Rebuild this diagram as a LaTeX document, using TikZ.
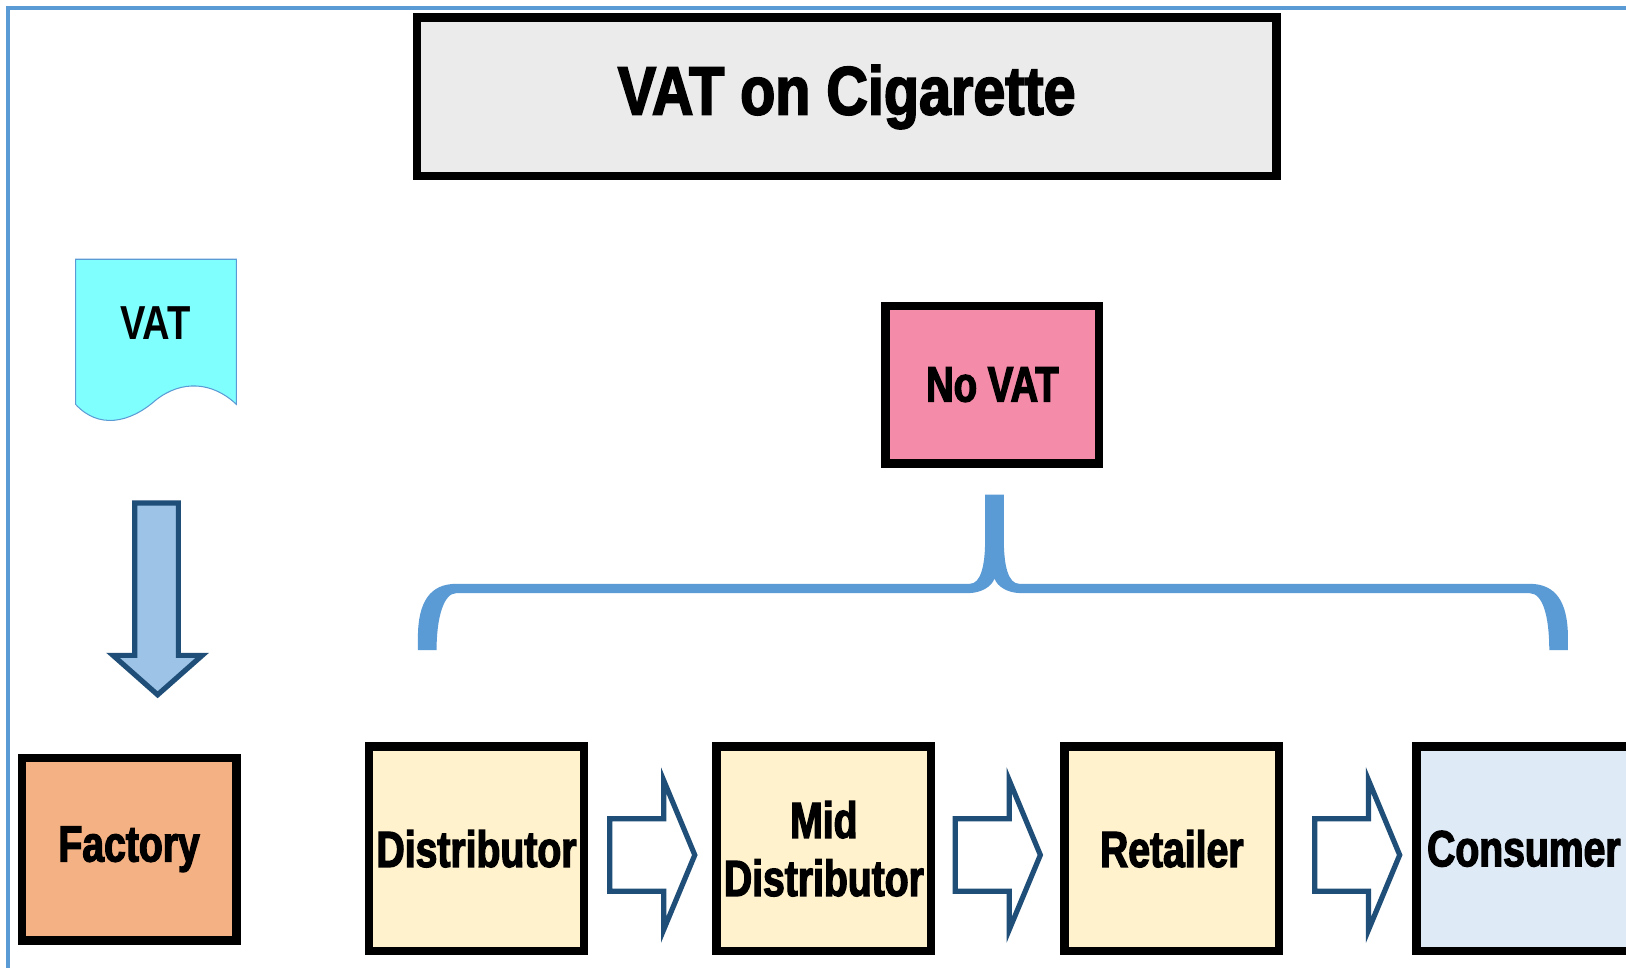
\documentclass[tikz,border=0pt]{standalone}
\usepackage{fontspec}
\setmainfont{Liberation Sans}[FakeStretch=0.77, BoldFeatures={FakeBold=2.5}]
\newfontfamily\titlefont{Liberation Sans}[FakeStretch=0.84, BoldFeatures={FakeBold=2.5}]
\newfontfamily\docfont{Liberation Sans}[FakeStretch=0.8]
\usetikzlibrary{calc}
\definecolor{frameblue}{HTML}{5B9BD5}
\definecolor{darkblue}{HTML}{1F4E79}
\definecolor{arrowfill}{HTML}{9DC3E6}
\definecolor{titlegray}{HTML}{EBEBEB}
\definecolor{pinkfill}{HTML}{F48BA9}
\definecolor{orangefill}{HTML}{F4B183}
\definecolor{yellowfill}{HTML}{FFF2CC}
\definecolor{bluefill}{HTML}{DEEBF7}
\definecolor{cyanfill}{HTML}{80FFFF}
\tikzset{
  box/.style={draw=black, line width=8pt, minimum width=207pt, minimum height=197pt,
    inner sep=0pt, align=center, font=\bfseries\fontsize{49}{56}\selectfont},
  arrowline/.style={draw=darkblue, line width=5pt, fill=white, line join=miter},
  harrow/.pic={\path[arrowline] (-41,-35) -- (11,-35) -- (11,-72) -- (41,0) -- (11,72) -- (11,35) -- (-41,35) -- cycle;}
}
\begin{document}
\begin{tikzpicture}[x=1pt,y=-1pt]
\useasboundingbox (0,0) rectangle (1568,933.4);
\clip (0,0) rectangle (1568,933.4);
\fill[white] (0,0) rectangle (1568,933.4);
% frame
\draw[frameblue, line width=4pt] (8,1100) -- (8,8) -- (1700,8);
% title
\node[box, fill=titlegray, minimum width=829pt, minimum height=153pt,
  font=\titlefont\bfseries\fontsize{66}{70}\selectfont] (title) at (816.5,93.5) {VAT on Cigarette};
% VAT document
\path[fill=cyanfill, draw=frameblue, line width=1pt] (73,250) -- (228,250) -- (228,390)
  .. controls (205,368) and (175,366) .. (150,386)
  .. controls (125,408) and (95,414) .. (73,390) -- cycle;
\node[font=\docfont\bfseries\fontsize{46}{50}\selectfont, inner sep=0pt] (vat) at (150,312) {VAT};
% down arrow
\path[draw=darkblue, fill=arrowfill, line width=5pt, line join=miter]
  (130,485) -- (172,485) -- (172,632) -- (195,632) -- (152,670) -- (109,632) -- (130,632) -- cycle;
% No VAT
\node[box, fill=pinkfill, minimum width=206pt, minimum height=152pt,
  font=\bfseries\fontsize{48}{50}\selectfont] (novat) at (957,371) {No VAT};
% brace
\fill[frameblue] (403,627) -- (403,615) .. controls (403,580) and (415,563) .. (440,563)
  -- (935,563) .. controls (946,563) and (950,545) .. (950,520) -- (950,477)
  -- (968,477) -- (968,520) .. controls (968,545) and (972,563) .. (983,563)
  -- (1475,563) .. controls (1500,563) and (1512,580) .. (1512,615) -- (1512,627)
  -- (1494,627) .. controls (1494,595) and (1488,572) .. (1475,572)
  -- (985,572) .. controls (972,572) and (962,566) .. (959,558)
  .. controls (956,566) and (946,572) .. (933,572)
  -- (440,572) .. controls (428,572) and (421,595) .. (421,627) -- cycle;
% boxes
\node[box, fill=orangefill, minimum height=176pt] (factory) at (124.5,819) {Factory};
\node[box, fill=yellowfill] (dist) at (459.5,818.5) {Distributor};
\node[box, fill=yellowfill] (mid) at (794.5,818.5) {Mid\\Distributor};
\node[box, fill=yellowfill] (ret) at (1130,818.5) {Retailer};
\node[box, fill=bluefill] (cons) at (1469.5,818.5) {Consumer};
% hollow arrows
\pic at ($(dist.east)!0.5!(mid.west)+(2,6)$) {harrow};
\pic at ($(mid.east)!0.5!(ret.west)+(0,6)$) {harrow};
\pic at ($(ret.east)!0.5!(cons.west)+(9,6)$) {harrow};
\end{tikzpicture}
\end{document}
